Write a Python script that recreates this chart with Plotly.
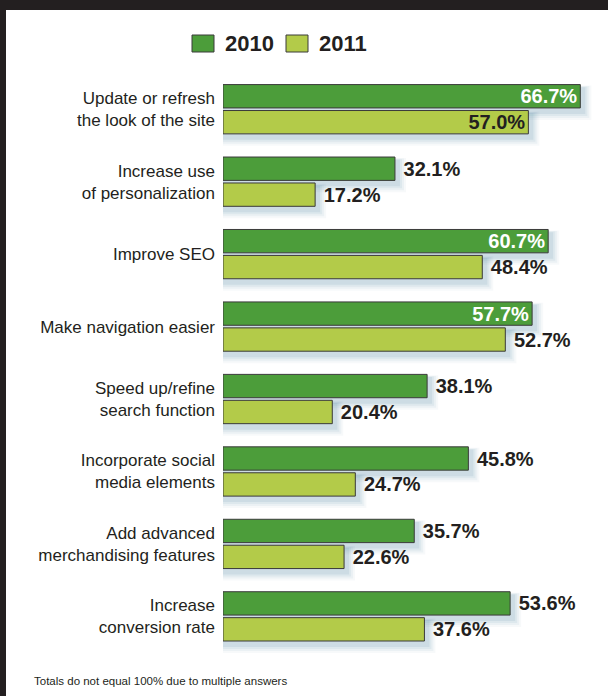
import plotly.graph_objects as go

categories = [
    "Update or refresh<br>the look of the site",
    "Increase use<br>of personalization",
    "Improve SEO",
    "Make navigation easier",
    "Speed up/refine<br>search function",
    "Incorporate social<br>media elements",
    "Add advanced<br>merchandising features",
    "Increase<br>conversion rate",
]
values_2010 = [66.7, 32.1, 60.7, 57.7, 38.1, 45.8, 35.7, 53.6]
values_2011 = [57.0, 17.2, 48.4, 52.7, 20.4, 24.7, 22.6, 37.6]
series_names = ["2010", "2011"]

DARK_GREEN = "#4c9d3a"
LIGHT_GREEN = "#b3cb49"
OUTLINE = "#3a3a3a"
INK = "#231f20"
FONT = "Liberation Sans, Arial, sans-serif"

W, H = 608, 696
M_L, M_R, M_T, M_B = 223, 10, 73, 43
PW, PH = W - M_L - M_R, H - M_T - M_B
X_MAX = 70
INSIDE_CUTOFF = 55

BARGAP, GROUPGAP = 0.284, 0.1


def px_x(px):
    return (px - M_L) / PW


def px_y(py):
    return 1 - (py - M_T) / PH


fig = go.Figure()
for name, vals, color, inside_color in [
    (series_names[0], values_2010, DARK_GREEN, "white"),
    (series_names[1], values_2011, LIGHT_GREEN, INK),
]:
    fig.add_trace(go.Bar(
        name=name,
        y=categories,
        x=vals,
        orientation="h",
        marker=dict(color=color, line=dict(color=OUTLINE, width=1)),
        texttemplate=" %{x:.1f}%",
        textposition=["inside" if v > INSIDE_CUTOFF else "outside" for v in vals],
        insidetextanchor="end",
        insidetextfont=dict(family=FONT, size=20, color=inside_color, weight="bold"),
        outsidetextfont=dict(family=FONT, size=20, color=INK, weight="bold"),
        constraintext="none",
        cliponaxis=False,
        showlegend=False,
    ))

# soft drop shadows under each bar, built from the same values
slot = (1 - BARGAP) / 2
bar_half = slot * (1 - GROUPGAP) / 2
ux = X_MAX / PW          # data units per pixel, x
uy = len(categories) / PH  # category units per pixel, y
shapes = []
for k, vals in enumerate([values_2010, values_2011]):
    for i, v in enumerate(vals):
        yc = i + (k - 0.5) * slot
        for grow, alpha in [(7, 0.05), (5, 0.07), (3, 0.09), (1, 0.12)]:
            shapes.append(dict(
                type="rect", xref="x", yref="y", layer="below",
                x0=-2 * ux, x1=v + (4 + grow) * ux,
                y0=yc - bar_half + (3 - grow * 0.3) * uy,
                y1=yc + bar_half + (5 + grow) * uy,
                line=dict(width=0), fillcolor=f"rgba(90,140,165,{alpha})",
            ))

# frame along the top and left edges
shapes.append(dict(type="rect", xref="paper", yref="paper",
                   x0=px_x(0), x1=px_x(W), y0=px_y(10), y1=px_y(0),
                   line=dict(width=0), fillcolor=INK))
shapes.append(dict(type="rect", xref="paper", yref="paper",
                   x0=px_x(0), x1=px_x(6), y0=px_y(H), y1=px_y(0),
                   line=dict(width=0), fillcolor=INK))

# legend swatches
annotations = []
for name, color, sx in [(series_names[0], DARK_GREEN, 192), (series_names[1], LIGHT_GREEN, 286)]:
    shapes.append(dict(type="rect", xref="paper", yref="paper",
                       x0=px_x(sx), x1=px_x(sx + 22), y0=px_y(52), y1=px_y(35),
                       line=dict(color=OUTLINE, width=1), fillcolor=color))
    annotations.append(dict(xref="paper", yref="paper", x=px_x(sx + 31), y=px_y(44),
                            xanchor="left", yanchor="middle", showarrow=False,
                            text=f"<b>{name}</b>",
                            font=dict(family=FONT, size=22, color=INK)))

annotations.append(dict(xref="paper", yref="paper", x=px_x(32), y=px_y(681),
                        xanchor="left", yanchor="middle", showarrow=False,
                        text="Totals do not equal 100% due to multiple answers",
                        font=dict(family=FONT, size=11.5, color=INK)))

fig.update_layout(
    width=W, height=H,
    margin=dict(l=M_L, r=M_R, t=M_T, b=M_B),
    paper_bgcolor="white", plot_bgcolor="white",
    barmode="group", bargap=BARGAP, bargroupgap=GROUPGAP,
    shapes=shapes, annotations=annotations,
    xaxis=dict(range=[0, X_MAX], showgrid=False, zeroline=False,
               showticklabels=False, showline=False, fixedrange=True),
    yaxis=dict(autorange="reversed", showgrid=False, zeroline=False, showline=False,
               ticks="", ticklabelstandoff=7,
               tickfont=dict(family=FONT, size=17, color=INK)),
)

fig.write_html("out.html")
